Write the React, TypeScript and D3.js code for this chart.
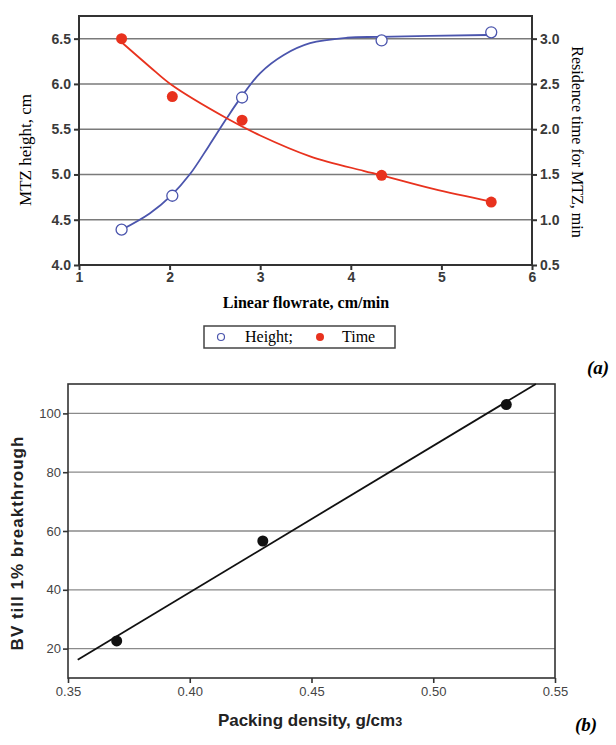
import React, { useEffect, useRef } from "react";
import * as d3 from "d3";

// (a) MTZ height and residence time vs linear flowrate
const flowrate = [1.47, 2.03, 2.8, 4.34, 5.55];
const mtzHeight = [4.39, 4.765, 5.85, 6.48, 6.57];
const residenceTime = [3.0, 2.36, 2.1, 1.49, 1.195];

// fitted curves
const heightFitX = [1.47, 1.78, 2.02, 2.23, 2.43, 2.63, 2.78, 3.0, 3.26, 3.55, 3.96, 4.32, 5.5, 5.55];
const heightFitY = [4.39, 4.57, 4.77, 5.01, 5.31, 5.62, 5.84, 6.12, 6.32, 6.45, 6.51, 6.52, 6.54, 6.54];
const timeFitX = [1.47, 1.78, 2.02, 2.63, 3.0, 3.55, 4.14, 4.34, 4.91, 5.55];
const timeFitY = [2.96, 2.69, 2.49, 2.12, 1.93, 1.7, 1.54, 1.49, 1.34, 1.2];

const heightTicks = [4.0, 4.5, 5.0, 5.5, 6.0, 6.5];
const timeTicks = [0.5, 1.0, 1.5, 2.0, 2.5, 3.0];
const flowTicks = [1, 2, 3, 4, 5, 6];

// (b) BV till 1% breakthrough vs packing density
const density = [0.37, 0.43, 0.53];
const bedVolumes = [22.6, 56.6, 103];
const densityTicks = [0.35, 0.4, 0.45, 0.5, 0.55];
const bvTicks = [20, 40, 60, 80, 100];

const BLUE = "#4b55ad";
const RED = "#e8321e";
const SERIF = "'Liberation Serif', 'DejaVu Serif', serif";
const SANS = "'Liberation Sans', Arial, sans-serif";

function Charts() {
  const svgRef = useRef<SVGSVGElement>(null);

  useEffect(() => {
    const svg = d3.select(svgRef.current);
    svg.selectAll("*").remove();

    // ---------- chart (a) ----------
    const a = svg.append("g");
    const x = d3.scaleLinear().domain([1, 6]).range([79, 532]);
    const yL = d3.scaleLinear().domain([4, 6.75]).range([265, 16]);
    const yR = d3.scaleLinear().domain([0.5, 3.25]).range([265, 16]);

    a.append("g")
      .selectAll("line")
      .data(heightTicks.slice(1))
      .join("line")
      .attr("x1", x(1))
      .attr("x2", x(6))
      .attr("y1", (d) => yL(d))
      .attr("y2", (d) => yL(d))
      .attr("stroke", "#7a7a7a")
      .attr("stroke-width", 1.5);

    a.append("rect")
      .attr("x", x(1))
      .attr("y", yL(6.75))
      .attr("width", x(6) - x(1))
      .attr("height", yL(4) - yL(6.75))
      .attr("fill", "none")
      .attr("stroke", "#333")
      .attr("stroke-width", 2);

    const leftAxis = a
      .append("g")
      .attr("transform", `translate(${x(1)},0)`)
      .call(d3.axisLeft(yL).tickValues(heightTicks).tickFormat(d3.format(".1f")).tickSize(5).tickPadding(3));
    const rightAxis = a
      .append("g")
      .attr("transform", `translate(${x(6)},0)`)
      .call(d3.axisRight(yR).tickValues(timeTicks).tickFormat(d3.format(".1f")).tickSize(5).tickPadding(3));
    const bottomAxis = a
      .append("g")
      .attr("transform", `translate(0,${yL(4)})`)
      .call(d3.axisBottom(x).tickValues(flowTicks).tickFormat(d3.format("d")).tickSize(5).tickPadding(2));
    [leftAxis, rightAxis, bottomAxis].forEach((g) => {
      g.select(".domain").remove();
      g.selectAll("line").attr("stroke", "#333").attr("stroke-width", 2);
      g.selectAll("text")
        .attr("font-family", SANS)
        .attr("font-size", 14)
        .attr("font-weight", "bold")
        .attr("fill", "#3a3a3a");
    });

    const curve = d3.line<[number, number]>().curve(d3.curveCatmullRom.alpha(0.5));

    a.append("path")
      .attr("d", curve(heightFitX.map((v, i) => [x(v), yL(heightFitY[i])])))
      .attr("fill", "none")
      .attr("stroke", BLUE)
      .attr("stroke-width", 1.8);
    a.append("path")
      .attr("d", curve(timeFitX.map((v, i) => [x(v), yR(timeFitY[i])])))
      .attr("fill", "none")
      .attr("stroke", RED)
      .attr("stroke-width", 1.8);

    a.append("g")
      .selectAll("circle")
      .data(flowrate)
      .join("circle")
      .attr("cx", (d) => x(d))
      .attr("cy", (d, i) => yL(mtzHeight[i]))
      .attr("r", 5.5)
      .attr("fill", "white")
      .attr("stroke", BLUE)
      .attr("stroke-width", 1.3);
    a.append("g")
      .selectAll("circle")
      .data(flowrate)
      .join("circle")
      .attr("cx", (d) => x(d))
      .attr("cy", (d, i) => yR(residenceTime[i]))
      .attr("r", 5.5)
      .attr("fill", RED);

    a.append("text")
      .attr("transform", `translate(27,150) rotate(-90)`)
      .attr("text-anchor", "middle")
      .attr("dominant-baseline", "middle")
      .attr("font-family", SERIF)
      .attr("font-size", 17)
      .text("MTZ height, cm");
    a.append("text")
      .attr("transform", `translate(576,142) rotate(90)`)
      .attr("text-anchor", "middle")
      .attr("dominant-baseline", "middle")
      .attr("font-family", SERIF)
      .attr("font-size", 16)
      .text("Residence time for MTZ, min");
    a.append("text")
      .attr("x", 306)
      .attr("y", 308)
      .attr("text-anchor", "middle")
      .attr("font-family", SERIF)
      .attr("font-weight", "bold")
      .attr("font-size", 16)
      .text("Linear flowrate, cm/min");

    const legend = a.append("g");
    legend
      .append("rect")
      .attr("x", 204)
      .attr("y", 326)
      .attr("width", 191)
      .attr("height", 22)
      .attr("fill", "white")
      .attr("stroke", "#444")
      .attr("stroke-width", 1.5);
    legend
      .append("circle")
      .attr("cx", 221)
      .attr("cy", 337)
      .attr("r", 3.5)
      .attr("fill", "white")
      .attr("stroke", BLUE)
      .attr("stroke-width", 1.2);
    legend
      .append("circle")
      .attr("cx", 320)
      .attr("cy", 337)
      .attr("r", 4)
      .attr("fill", RED);
    legend
      .selectAll("text")
      .data([
        ["Height;", 245],
        ["Time", 342],
      ])
      .join("text")
      .attr("x", (d) => d[1] as number)
      .attr("y", 342)
      .attr("font-family", SERIF)
      .attr("font-size", 16)
      .text((d) => d[0] as string);

    a.append("text")
      .attr("x", 587)
      .attr("y", 374)
      .attr("font-family", SERIF)
      .attr("font-weight", "bold")
      .attr("font-style", "italic")
      .attr("font-size", 19)
      .text("(a)");

    // ---------- chart (b) ----------
    const b = svg.append("g");
    const xb = d3.scaleLinear().domain([0.35, 0.55]).range([68, 555]);
    const yb = d3.scaleLinear().domain([10, 110]).range([678, 384]);

    b.append("g")
      .selectAll("line")
      .data(bvTicks)
      .join("line")
      .attr("x1", xb(0.35))
      .attr("x2", xb(0.55))
      .attr("y1", (d) => yb(d))
      .attr("y2", (d) => yb(d))
      .attr("stroke", "#8a8a8a")
      .attr("stroke-width", 1.3);

    b.append("rect")
      .attr("x", xb(0.35))
      .attr("y", yb(110))
      .attr("width", xb(0.55) - xb(0.35))
      .attr("height", yb(10) - yb(110))
      .attr("fill", "none")
      .attr("stroke", "#333")
      .attr("stroke-width", 1.6);

    const bLeft = b
      .append("g")
      .attr("transform", `translate(${xb(0.35)},0)`)
      .call(d3.axisLeft(yb).tickValues(bvTicks).tickSize(5).tickPadding(2));
    const bBottom = b
      .append("g")
      .attr("transform", `translate(0,${yb(10)})`)
      .call(d3.axisBottom(xb).tickValues(densityTicks).tickFormat(d3.format(".2f")).tickSize(5).tickPadding(4));
    [bLeft, bBottom].forEach((g) => {
      g.select(".domain").remove();
      g.selectAll("line").attr("stroke", "#333").attr("stroke-width", 1.6);
      g.selectAll("text").attr("font-family", SANS).attr("font-size", 13).attr("fill", "#444");
    });

    // least squares fit through the three points
    const mx = d3.mean(density)!;
    const my = d3.mean(bedVolumes)!;
    const slope =
      d3.sum(density, (d, i) => (d - mx) * (bedVolumes[i] - my)) / d3.sum(density, (d) => (d - mx) ** 2);
    const icpt = my - slope * mx;
    const x0 = 0.354;
    const x1 = (110 - icpt) / slope;
    b.append("line")
      .attr("x1", xb(x0))
      .attr("y1", yb(icpt + slope * x0))
      .attr("x2", xb(x1))
      .attr("y2", yb(icpt + slope * x1))
      .attr("stroke", "#111")
      .attr("stroke-width", 1.8);

    b.append("g")
      .selectAll("circle")
      .data(density)
      .join("circle")
      .attr("cx", (d) => xb(d))
      .attr("cy", (d, i) => yb(bedVolumes[i]))
      .attr("r", 5.5)
      .attr("fill", "#111");

    b.append("text")
      .attr("transform", `translate(19,543) rotate(-90)`)
      .attr("text-anchor", "middle")
      .attr("dominant-baseline", "middle")
      .attr("font-family", SANS)
      .attr("font-weight", "bold")
      .attr("font-size", 17)
      .attr("letter-spacing", 1)
      .attr("fill", "#222")
      .text("BV till 1% breakthrough");
    const xt = b
      .append("text")
      .attr("x", 310)
      .attr("y", 726)
      .attr("text-anchor", "middle")
      .attr("font-family", SANS)
      .attr("font-weight", "bold")
      .attr("font-size", 17)
      .attr("fill", "#222");
    xt.append("tspan").text("Packing density, g/cm");
    xt.append("tspan").attr("font-size", 12.5).text("3");

    b.append("text")
      .attr("x", 575)
      .attr("y", 731)
      .attr("font-family", SERIF)
      .attr("font-weight", "bold")
      .attr("font-style", "italic")
      .attr("font-size", 19)
      .text("(b)");
  }, []);

  return <svg ref={svgRef} width={616} height={745} style={{ position: "absolute", left: 0, top: 0, background: "white" }} />;
}

export default function App() {
  return <Charts />;
}
